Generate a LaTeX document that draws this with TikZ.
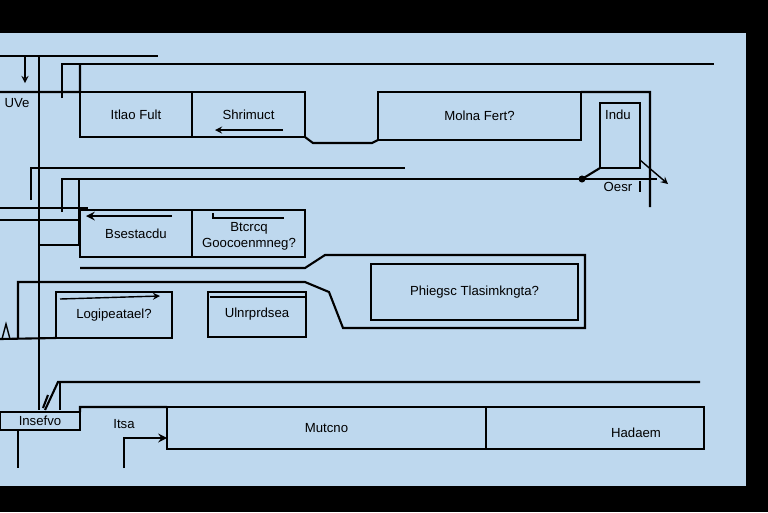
\documentclass[tikz,border=0pt]{standalone}
\usepackage{fontspec}
\setsansfont{Liberation Sans}
\usetikzlibrary{calc}

\definecolor{paper}{RGB}{190,216,238}

\tikzset{
	wire/.style={line width=1.2pt},
	thinwire/.style={line width=0.8pt},
	lbl/.style={font=\sffamily\fontsize{7.5}{9}\selectfont, inner sep=1pt},
	box/.style={draw, line width=1.2pt, inner sep=0pt, outer sep=0pt, lbl}
}

\begin{document}
\begin{tikzpicture}[x=0.02cm, y=-0.02cm]
	
	\fill[black] (0,0) rectangle (768,512);
	\fill[paper] (0,33) rectangle (746,486);
	\useasboundingbox (0,0) rectangle (768,512);
	
	% upper row
	\node[box, minimum width=2.24cm, minimum height=0.9cm] (itlao) at (136,114.5) {Itlao Fult};
	\node[box, minimum width=2.26cm, minimum height=0.9cm] (shrim) at (248.5,114.5) {\raisebox{-3pt}{Shrimuct}};
	\node[box, minimum width=4.06cm, minimum height=0.96cm] (molna) at (479.5,116) {Molna Fert?};
	\node[box, minimum width=0.8cm, minimum height=1.3cm] (indu) at (620,135.5) {};
	\node[lbl] (indut) at (618,115) {Indu};
	\node[lbl] (uve) at (17,103) {UVe};
	\node[lbl] (oesr) at (618,187) {Oesr};
	
	% middle row
	\node[box, minimum width=2.24cm, minimum height=0.94cm] (bsest) at (136,233.5) {Bsestacdu};
	\node[box, minimum width=2.26cm, minimum height=0.94cm] (btcrcq) at (248.5,233.5) {};
	\node[lbl, align=center] (btcrcqt) at (249,236) {Btcrcq\\Goocoenmneg?};
	\node[box, minimum width=4.14cm, minimum height=1.12cm] (phieg) at (474.5,292) {Phiegsc Tlasimkngta?};
	\node[box, minimum width=2.32cm, minimum height=0.92cm] (logip) at (114,315) {Logipeatael?};
	\node[box, minimum width=1.96cm, minimum height=0.9cm] (ulnr) at (257,314.5) {Ulnrprdsea};
	
	% bottom row
	\node[box, minimum width=1.6cm, minimum height=0.36cm] (insef) at (40,421) {Insefvo};
	\node[box, minimum width=6.38cm, minimum height=0.84cm] (mutcno) at (326.5,428) {\raisebox{-3pt}{Mutcno}};
	\node[box, minimum width=4.36cm, minimum height=0.84cm] (hadaem) at (595,428) {};
	\node[lbl] (hadaemt) at (636,433) {Hadaem};
	\node[lbl] (itsa) at (124,424) {Itsa};
	
	\coordinate (S) at (39,56);
	\coordinate (T) at (39,410);
	\coordinate (R) at (650,207);
	\coordinate (D) at (582,179);
	\coordinate (E) at (668,184);
	\coordinate (F) at (124,468);
	\coordinate (G) at ($(mutcno.west)+(0,10)$);
	
	% rails
	\draw[wire] (0,56) -- (158,56);
	\draw[thinwire, -stealth] (25,57) -- (25,83);
	\draw[wire] (S) -- (T);
	\draw[wire] (0,92) -- (itlao.north west);
	\draw[wire] (62,98) -- (62,64) -- (714,64);
	\draw[wire] (80,64) -- (itlao.north west);
	\draw[thinwire, -stealth] (283,130) -- (215,130);
	\draw[wire] (shrim.south east) -- (313,143) -- (372,143) -- (molna.south west);
	\draw[wire] (molna.north east) -- (650,92) -- (R);
	\draw[wire] (indu.south west) -- (D);
	\draw[wire] (62,212) -- (62,179) -- (657,179);
	\fill (D) circle (2pt);
	\draw[thinwire, -stealth] ($(indu.south east)+(0,-8)$) -- (E);
	\draw[thinwire] (640,181) -- (640,192);
	
	\draw[wire] (31,200) -- (31,168) -- (405,168);
	\draw[wire] (40,245) -- (79,245) -- (79,179);
	\draw[wire] (0,208) -- (88,208);
	\draw[wire] (0,220) -- (80,220);
	\draw[wire, -stealth] (172,216) -- (86,216);
	\draw[thinwire] (213,213) -- (213,218) -- (284,218);
	
	\draw[wire] (80,268) -- (305,268) -- (325,255) -- (585,255) -- (585,328)
		-- (343,328) -- (329,292) -- (305,282) -- (18,282) -- (18,339);
	\draw[wire] (0,339) -- (logip.south west);
	\draw[thinwire] (2,339) -- (6,324) -- (10,339);
	\draw[thinwire, -stealth] (60,299) -- (160,296);
	\draw[thinwire] (210,297) -- (305,297);
	
	\draw[wire] (45,410) -- (58,382) -- (700,382);
	\draw[wire] (43,408) -- (48,395);
	\draw[wire] (60,382) -- (60,410);
	\draw[wire] (insef.north east) -- (80,407) -- (mutcno.north west);
	\draw[wire] (18,430) -- (18,468);
	\draw[wire, -stealth] (F) -- (124,438) -- (G);

\end{tikzpicture}
\end{document}
